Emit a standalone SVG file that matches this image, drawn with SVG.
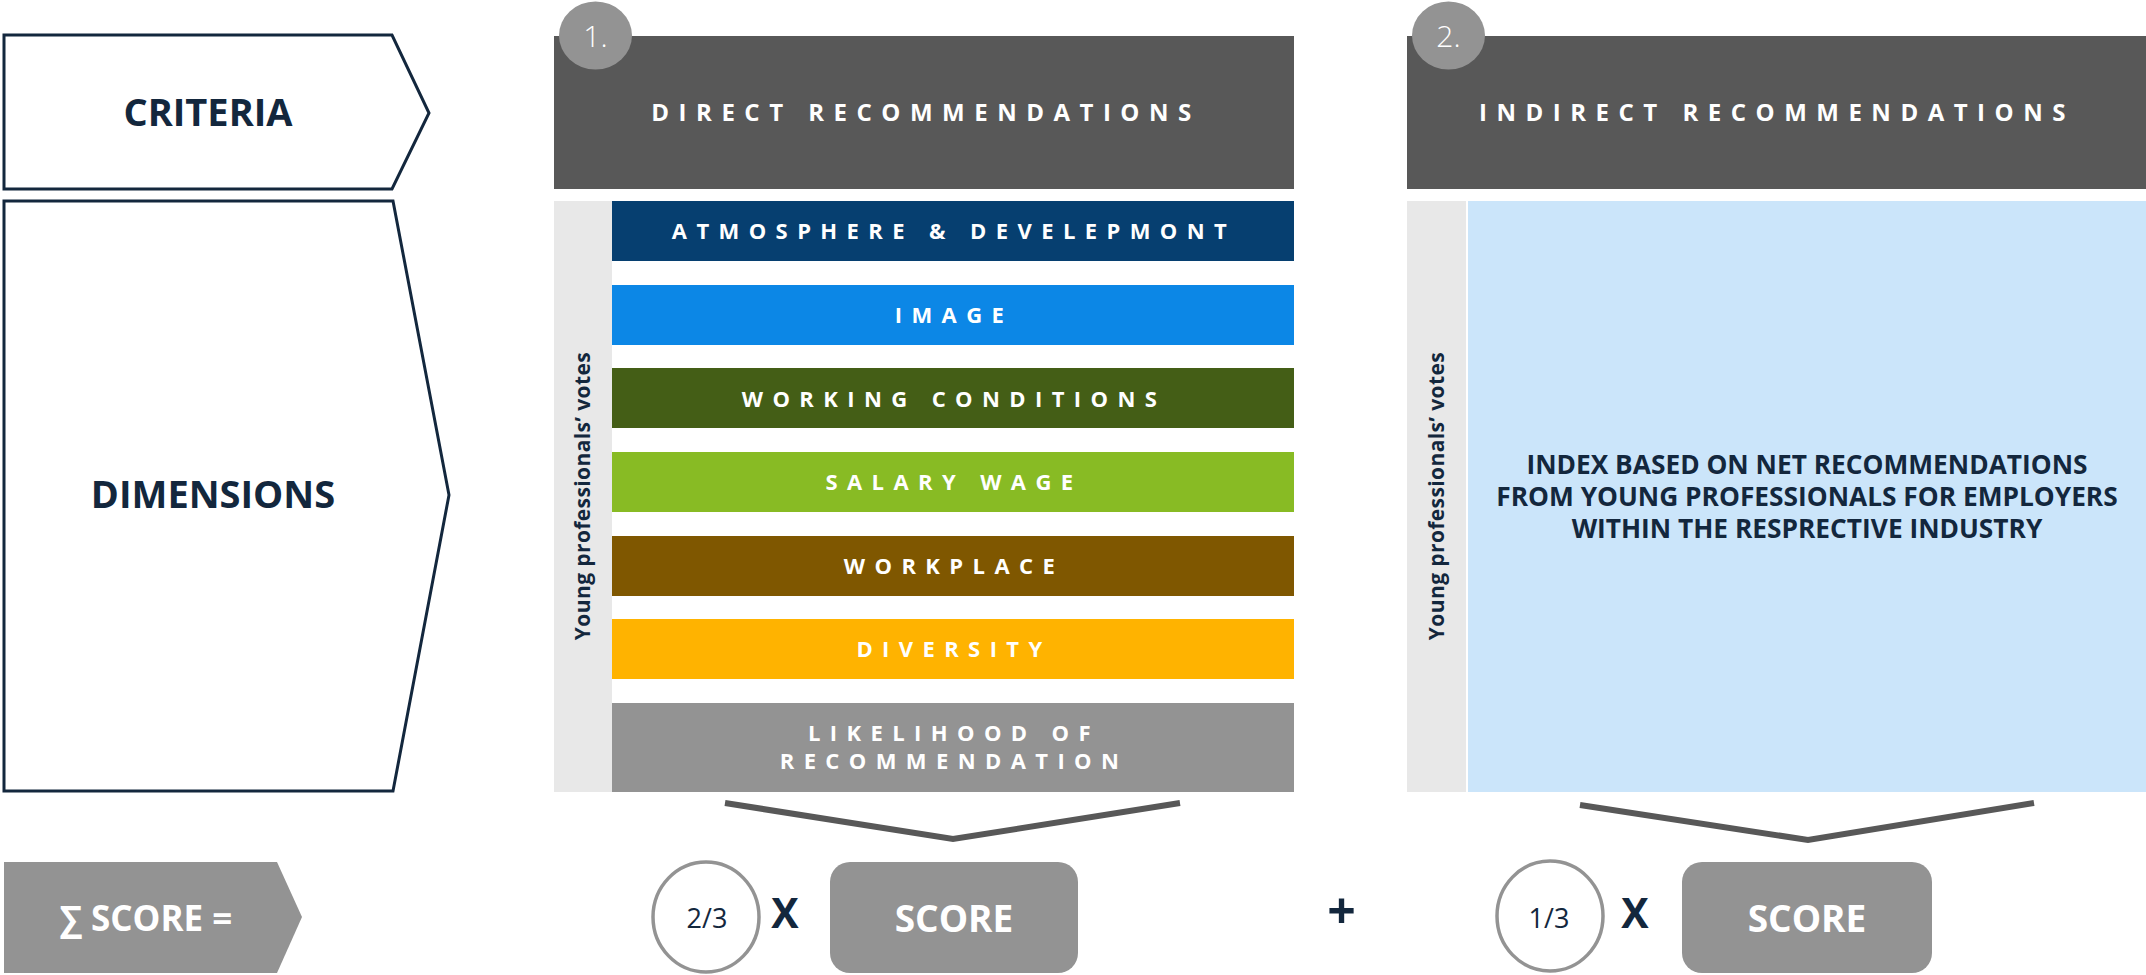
<svg xmlns="http://www.w3.org/2000/svg" width="2146" height="975" viewBox="0 0 2146 975">
<style>
.ol{fill:#fff;stroke:#13273d;stroke-width:3}
.nav{fill:#13273d;font-family:"Open Sans","Liberation Sans",sans-serif;font-weight:700}
.hd{fill:#585858}
.hdt{fill:#fff;font-family:"Open Sans","Liberation Sans",sans-serif;font-weight:700;font-size:24px;letter-spacing:9.5px;text-anchor:middle}
.num{fill:#939393}
.numt{fill:#fff;font-family:"Open Sans","Liberation Sans",sans-serif;font-weight:300;font-size:30px;text-anchor:middle}
.strip{fill:#e8e8e8}
.bt{fill:#fff;font-family:"Open Sans","Liberation Sans",sans-serif;font-weight:700;font-size:22px;letter-spacing:9.4px;text-anchor:middle}
.rot{fill:#13273d;font-family:"Open Sans","Liberation Sans",sans-serif;font-weight:700;font-size:21px;text-anchor:middle;letter-spacing:0.4px}
.gbox{fill:#939393}
.wt{fill:#fff;font-family:"Open Sans","Liberation Sans",sans-serif;font-weight:700;text-anchor:middle}
.ell{fill:#fff;stroke:#939393;stroke-width:3.5}
.frac{fill:#13273d;font-family:"Open Sans","Liberation Sans",sans-serif;font-weight:400;font-size:27px;text-anchor:middle}
.conn{fill:none;stroke:#585858;stroke-width:6}
</style>

<g id="criteria">
<polygon class="ol" points="4,35 392,35 429,113 392,189 4,189"/>
<text class="nav" x="208" y="126" font-size="38" text-anchor="middle">CRITERIA</text>
</g>

<g id="dimensions">
<polygon class="ol" points="4,201 393,201 449,495 393,791 4,791"/>
<text class="nav" x="213" y="508" font-size="38" text-anchor="middle">DIMENSIONS</text>
</g>

<g id="direct-header">
<rect class="hd" x="554" y="36" width="740" height="153"/>
<text class="hdt" x="926" y="121">DIRECT RECOMMENDATIONS</text>
<ellipse class="num" cx="595.5" cy="35.5" rx="36.5" ry="34"/>
<text class="numt" x="595.5" y="47">1.</text>
</g>

<g id="indirect-header">
<rect class="hd" x="1407" y="36" width="739" height="153"/>
<text class="hdt" x="1777" y="121">INDIRECT RECOMMENDATIONS</text>
<ellipse class="num" cx="1448.5" cy="35.5" rx="36.5" ry="34"/>
<text class="numt" x="1448.5" y="47">2.</text>
</g>

<g id="votes-1">
<rect class="strip" x="554" y="201" width="58" height="591"/>
<text class="rot" transform="translate(590,496) rotate(-90)">Young professionals’ votes</text>
</g>

<g id="atmosphere">
<rect x="612" y="201" width="682" height="60" fill="#063f70"/>
<text class="bt" x="954" y="239">ATMOSPHERE &amp; DEVELEPMONT</text>
</g>
<g id="image">
<rect x="612" y="285" width="682" height="60" fill="#0c87e6"/>
<text class="bt" x="954" y="323">IMAGE</text>
</g>
<g id="working-conditions">
<rect x="612" y="368" width="682" height="60" fill="#445e16"/>
<text class="bt" x="954" y="407">WORKING CONDITIONS</text>
</g>
<g id="salary-wage">
<rect x="612" y="452" width="682" height="60" fill="#88bb24"/>
<text class="bt" x="954" y="490">SALARY WAGE</text>
</g>
<g id="workplace">
<rect x="612" y="536" width="682" height="60" fill="#7f5700"/>
<text class="bt" x="954" y="574">WORKPLACE</text>
</g>
<g id="diversity">
<rect x="612" y="619" width="682" height="60" fill="#ffb300"/>
<text class="bt" x="954" y="657">DIVERSITY</text>
</g>
<g id="likelihood">
<rect x="612" y="703" width="682" height="89" fill="#939393"/>
<text class="bt" x="954" y="741">LIKELIHOOD OF</text>
<text class="bt" x="954" y="769">RECOMMENDATION</text>
</g>

<g id="votes-2">
<rect class="strip" x="1407" y="201" width="59" height="591"/>
<text class="rot" transform="translate(1443.5,496) rotate(-90)">Young professionals’ votes</text>
</g>

<g id="index">
<rect x="1468" y="201" width="678" height="591" fill="#cbe5fa"/>
<text class="nav" x="1807" y="474" font-size="26.3" text-anchor="middle">INDEX BASED ON NET RECOMMENDATIONS</text>
<text class="nav" x="1807" y="506" font-size="26.3" text-anchor="middle">FROM YOUNG PROFESSIONALS FOR EMPLOYERS</text>
<text class="nav" x="1807" y="538" font-size="26.3" text-anchor="middle">WITHIN THE RESPRECTIVE INDUSTRY</text>
</g>

<g id="connectors">
<polyline class="conn" points="725,803 953,839 1180,803"/>
<polyline class="conn" points="1580,805 1808,840 2034,803"/>
</g>

<g id="sum-score">
<polygon class="gbox" points="4,862 277,862 302,917 277,973 4,973"/>
<text class="wt" x="146" y="931" font-size="35">∑ SCORE =</text>
</g>

<g id="weight-2-3">
<ellipse class="ell" cx="706" cy="917" rx="53" ry="55"/>
<text class="frac" x="707" y="928">2/3</text>
</g>
<text class="nav" x="785" y="928" font-size="41" text-anchor="middle">X</text>
<g id="score-1">
<rect class="gbox" x="830" y="862" width="248" height="111" rx="20" ry="20"/>
<text class="wt" x="954" y="932" font-size="37">SCORE</text>
</g>

<text class="nav" x="1341.5" y="929" font-size="50" text-anchor="middle">+</text>

<g id="weight-1-3">
<ellipse class="ell" cx="1550" cy="916" rx="53" ry="55"/>
<text class="frac" x="1549" y="928">1/3</text>
</g>
<text class="nav" x="1635" y="928" font-size="41" text-anchor="middle">X</text>
<g id="score-2">
<rect class="gbox" x="1682" y="862" width="250" height="111" rx="20" ry="20"/>
<text class="wt" x="1807" y="932" font-size="37">SCORE</text>
</g>
</svg>
